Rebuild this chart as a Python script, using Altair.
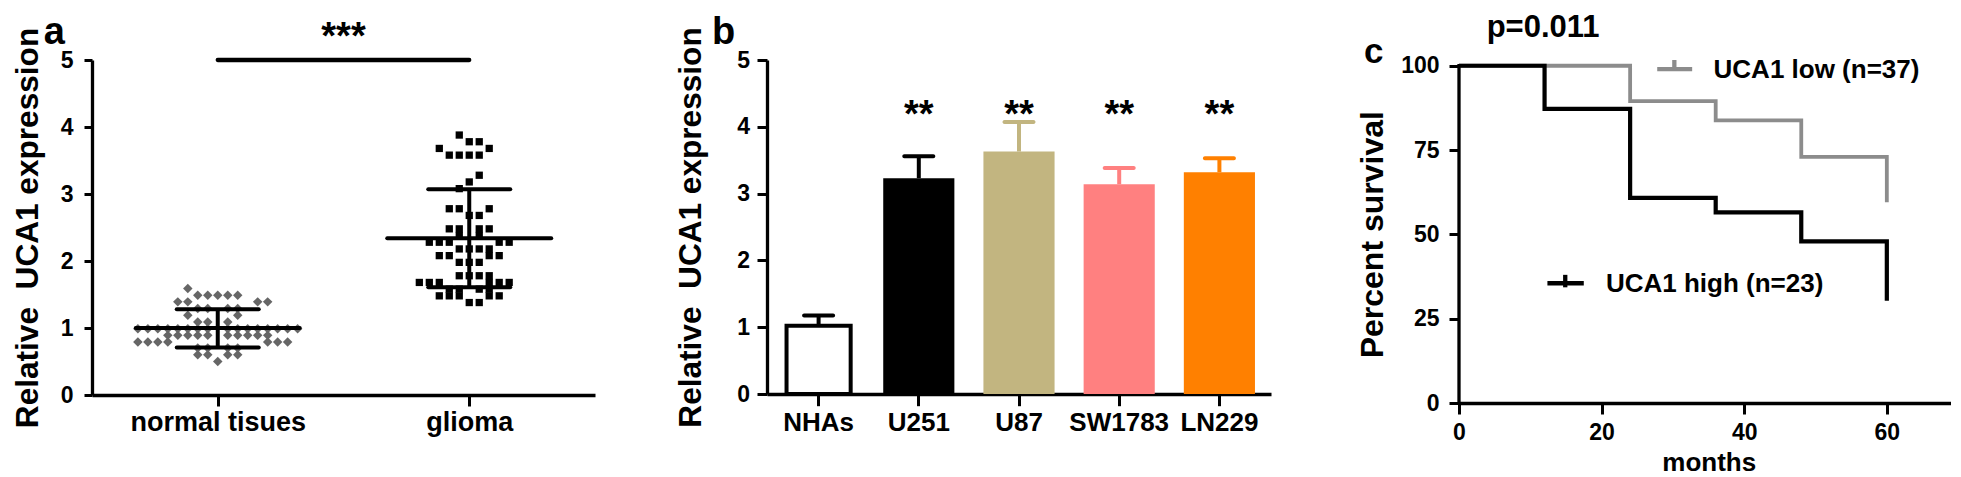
import altair as alt
import pandas as pd

FONT = "Liberation Sans"
BLACK = "#000000"

# ---------------- data: panel a (dot plot) ----------------
group_names = ["normal tisues", "glioma"]
normal_levels = [1.59, 1.49, 1.39, 1.29, 1.19, 1.09, 0.99, 0.89, 0.79, 0.70, 0.60, 0.50]
normal_columns = [
    [-3],
    [-2, -1, 0, 1, 2],
    [-4, -3, 4, 5],
    [-2, -1, 1, 2],
    [-3, 2],
    [-2, -1, 1],
    [-8, -7, -6, -5, -4, -3, -2, -1, 1, 2, 3, 4, 5, 6, 7, 8],
    [-5, -4, -3, -2, -1, 1, 2, 3, 4, 5],
    [-8, -7, -6, -5, 5, 6, 7],
    [-2, -1, 1, 2],
    [-2, -1, 1, 2],
    [0],
]
glioma_levels = [3.88, 3.78, 3.68, 3.58, 3.28, 3.18, 3.08, 2.78, 2.68, 2.48,
                 2.38, 2.28, 2.18, 2.08, 1.98, 1.78, 1.68, 1.58, 1.48, 1.38]
glioma_columns = [
    [-1], [0, 1], [-3, 2], [-2, -1, 0, 1], [1], [0], [-1], [-2, -1, 2], [0, 1],
    [-2, -1, 1, 2], [-1, 1], [-4, -3, -2, 3, 4], [-1, 0, 1, 2], [-3, -2, 2, 3],
    [-1, 0, 1], [-1, 0, 1, 2], [-5, -4, -3, 2, 3, 4], [-2, -1, 1, 2],
    [-3, -2, -1, 2, 3], [0, 1],
]
group_mean = [1.00, 2.34]
group_sd_low = [0.71, 1.61]
group_sd_high = [1.28, 3.07]
signif_a = "***"

# ---------------- data: panel b (bars) ----------------
cell_lines = ["NHAs", "U251", "U87", "SW1783", "LN229"]
cell_mean = [1.02, 3.23, 3.63, 3.14, 3.32]
cell_err = [0.155, 0.33, 0.44, 0.245, 0.21]
cell_fill = ["#FFFFFF", "#000000", "#C2B580", "#FF8080", "#FF8000"]
cell_edge = ["#000000", "#000000", "#C2B580", "#FF8080", "#FF8000"]
cell_stars = ["", "**", "**", "**", "**"]

# ---------------- data: panel c (Kaplan-Meier) ----------------
high_months = [0, 12, 24, 36, 48, 60]
high_survival = [100, 87.2, 60.8, 56.5, 47.9, 30.3]
low_months = [0, 24, 36, 48, 60]
low_survival = [100, 89.5, 83.8, 73.0, 59.5]
legend_low = "UCA1 low (n=37)"
legend_high = "UCA1 high (n=23)"
p_text = "p=0.011"

# ---------------- layout / style constants ----------------
COL_STEP = 0.0397
MEAN_HALF = 0.326
CAP_HALF = 0.163
GRAY_DOT = "#666666"
GRAY_LINE = "#8C8C8C"
GAP_AB = 171.7
GAP_BC = 187.6
LETTER_Y = -16.5


def axis(**kw):
    base = dict(grid=False, domainColor=BLACK, domainWidth=3.3, tickColor=BLACK, tickWidth=3,
                labelColor=BLACK, labelFont=FONT, labelFontWeight="bold", labelOverlap=False,
                labelFlush=False, titleFont=FONT, titleFontWeight="bold", titleColor=BLACK)
    base.update(kw)
    return alt.Axis(**base)


def label_layer(text, x, y, size):
    return alt.Chart(pd.DataFrame({"t": [text]})).mark_text(
        font=FONT, fontWeight="bold", fontSize=size, color=BLACK, align="center",
        baseline="alphabetic").encode(x=alt.value(x), y=alt.value(y), text="t:N")


def spacer(w):
    return alt.Chart(pd.DataFrame({"t": [""]})).mark_text(opacity=0).encode(
        text="t:N", x=alt.value(0), y=alt.value(0)).properties(width=w, height=10)


# invisible anchor fixing the top-left corner of the whole figure
anchor = alt.Chart(pd.DataFrame({"t": [0]})).mark_rule(opacity=0, strokeWidth=0.1).encode(
    x=alt.value(-83.7), x2=alt.value(-83.0), y=alt.value(-51.5))

# ================= panel a =================
rows = []
for gi, (levels, cols) in enumerate([(normal_levels, normal_columns), (glioma_levels, glioma_columns)]):
    for lvl, ks in zip(levels, cols):
        for k in ks:
            rows.append({"group": group_names[gi], "pos": gi + k * COL_STEP, "value": lvl})
dots = pd.DataFrame(rows)

hl = []
for gi in range(2):
    hl.append({"x0": gi - MEAN_HALF, "x1": gi + MEAN_HALF, "y": group_mean[gi]})
    hl.append({"x0": gi - CAP_HALF, "x1": gi + CAP_HALF, "y": group_sd_low[gi]})
    hl.append({"x0": gi - CAP_HALF, "x1": gi + CAP_HALF, "y": group_sd_high[gi]})
hl = pd.DataFrame(hl)
vl = pd.DataFrame({"x": [0, 1], "y0": group_sd_low, "y1": group_sd_high})
bracket = pd.DataFrame({"x0": [0], "x1": [1], "y": [5.0]})
star_a = pd.DataFrame({"x": [0.5], "y": [5.16], "t": [signif_a]})

xa_scale = alt.Scale(domain=[-0.5, 1.5], nice=False, zero=False)
ya_scale = alt.Scale(domain=[0, 5], nice=False)
xa_axis = axis(values=[0, 1], labelExpr="datum.value == 0 ? 'normal tisues' : 'glioma'",
               tickSize=11, labelPadding=3, labelFontSize=27, title=None)
ya_axis = axis(values=[0, 1, 2, 3, 4, 5], tickSize=8, labelPadding=11, labelFontSize=23,
               title="Relative\u00a0 UCA1 expression", titleFontSize=31.6, titleAngle=270,
               titleX=-55.0, titleY=167.5, titleAlign="center", titleBaseline="alphabetic")


def XA(f):
    return alt.X(f, type="quantitative", scale=xa_scale, axis=xa_axis)


def YA(f):
    return alt.Y(f, type="quantitative", scale=ya_scale, axis=ya_axis)


pts_normal = alt.Chart(dots[dots.group == group_names[0]]).mark_point(
    shape="diamond", filled=True, size=90, color=GRAY_DOT, opacity=1).encode(x=XA("pos"), y=YA("value"))
pts_glioma = alt.Chart(dots[dots.group == group_names[1]]).mark_square(
    size=53, color=BLACK, opacity=1).encode(x=XA("pos"), y=YA("value"))
stat_h = alt.Chart(hl).mark_rule(strokeWidth=4, strokeCap="round", color=BLACK).encode(
    x=XA("x0"), x2="x1:Q", y=YA("y"))
stat_v = alt.Chart(vl).mark_rule(strokeWidth=4, color=BLACK).encode(
    x=XA("x"), y=YA("y0"), y2="y1:Q")
br = alt.Chart(bracket).mark_rule(strokeWidth=4.3, strokeCap="round", color=BLACK).encode(
    x=XA("x0"), x2="x1:Q", y=YA("y"))
st_a = alt.Chart(star_a).mark_text(font=FONT, fontWeight="bold", fontSize=38, color=BLACK,
                                   baseline="alphabetic").encode(x=XA("x"), y=YA("y"), text="t:N")
panel_a = alt.layer(anchor, pts_normal, pts_glioma, stat_h, stat_v, br, st_a,
                    label_layer("a", -37.7, LETTER_Y, 38)).properties(width=503, height=335)

# ================= panel b =================
bdf = pd.DataFrame({"cell": cell_lines, "mean": cell_mean,
                    "upper": [m + e for m, e in zip(cell_mean, cell_err)],
                    "fill": cell_fill, "edge": cell_edge, "star": cell_stars})
bdf["star_y"] = 4.0

xb = alt.X("cell:N", scale=alt.Scale(domain=cell_lines, paddingInner=0, paddingOuter=0.015),
           axis=axis(tickSize=11.7, labelPadding=4, labelFontSize=26, labelAngle=0, title=None))
yb_scale = alt.Scale(domain=[0, 5], nice=False)
yb_axis = axis(values=[0, 1, 2, 3, 4, 5], tickSize=10, labelPadding=7.4, labelFontSize=23,
               title="Relative\u00a0 UCA1 expression", titleFontSize=31.6, titleAngle=270,
               titleX=-66.7, titleY=167, titleAlign="center", titleBaseline="alphabetic")


def YB(f):
    return alt.Y(f, type="quantitative", scale=yb_scale, axis=yb_axis)


bars_filled = alt.Chart(bdf[bdf.cell != "NHAs"]).mark_bar(width={"band": 0.71}, opacity=1).encode(
    x=xb, y=YB("mean"), color=alt.Color("fill:N", scale=None))
bar_open = alt.Chart(bdf[bdf.cell == "NHAs"]).mark_bar(
    width={"band": 0.64}, fill="#FFFFFF", stroke=BLACK, strokeWidth=4, opacity=1).encode(x=xb, y=YB("mean"))
err_v = alt.Chart(bdf).mark_rule(strokeWidth=4).encode(
    x=xb, y=YB("mean"), y2="upper:Q", color=alt.Color("edge:N", scale=None))
err_cap = alt.Chart(bdf).mark_tick(orient="horizontal", size=33, thickness=4, cornerRadius=2,
                                   opacity=1).encode(x=xb, y=YB("upper"), color=alt.Color("edge:N", scale=None))
stars_b = alt.Chart(bdf[bdf.star != ""]).mark_text(font=FONT, fontWeight="bold", fontSize=38,
                                                   color=BLACK, baseline="alphabetic").encode(
    x=xb, y=YB("star_y"), text="star:N")
panel_b = alt.layer(bars_filled, bar_open, err_v, err_cap, stars_b,
                    label_layer("b", -43.4, LETTER_Y, 38)).properties(width=504, height=334)

# ================= panel c =================
low_df = pd.DataFrame({"month": low_months, "surv": low_survival})
high_df = pd.DataFrame({"month": high_months, "surv": high_survival})

xc_scale = alt.Scale(domain=[0, 69], nice=False, zero=True)
yc_scale = alt.Scale(domain=[0, 101.7], nice=False)
xc_axis = axis(values=[0, 20, 40, 60], tickSize=11, labelPadding=7, labelFontSize=23,
               title="months", titleFontSize=26, titleX=249.7, titleY=67.5, titleAngle=0,
               titleAlign="center", titleBaseline="alphabetic")
yc_axis = axis(values=[0, 25, 50, 75, 100], domain=False, tickSize=10, labelPadding=10,
               labelFontSize=23, title="Percent survival", titleFontSize=32, titleAngle=270,
               titleX=-76.6, titleY=174.2, titleAlign="center", titleBaseline="alphabetic")


def XC(f):
    return alt.X(f, type="quantitative", scale=xc_scale, axis=xc_axis)


def YC(f):
    return alt.Y(f, type="quantitative", scale=yc_scale, axis=yc_axis)


yaxis_line = alt.Chart(pd.DataFrame({"x": [0], "y0": [0], "y1": [100]})).mark_rule(
    strokeWidth=3.3, color=BLACK, strokeCap="square").encode(x=XC("x"), y=YC("y0"), y2="y1:Q")
km_low = alt.Chart(low_df).mark_line(interpolate="step-after", color=GRAY_LINE, strokeWidth=3.8).encode(
    x=XC("month"), y=YC("surv"))
km_high = alt.Chart(high_df).mark_line(interpolate="step-after", color=BLACK, strokeWidth=4.2).encode(
    x=XC("month"), y=YC("surv"))

leg_lines = pd.DataFrame({
    "x0": [27.8, 30.2, 12.4, 14.9],
    "x1": [32.7, 30.2, 17.5, 14.9],
    "y0": [99.0, 99.0, 35.5, 34.3],
    "y1": [99.0, 101.7, 35.5, 38.0],
    "c": [GRAY_LINE, GRAY_LINE, BLACK, BLACK],
})
leg_rules = alt.Chart(leg_lines).mark_rule(strokeWidth=4.3).encode(
    x=XC("x0"), x2="x1:Q", y=YC("y0"), y2="y1:Q", color=alt.Color("c:N", scale=None))
leg_text = alt.Chart(pd.DataFrame({"x": [35.7, 20.6], "y": [96.5, 32.8], "t": [legend_low, legend_high]})).mark_text(
    font=FONT, fontWeight="bold", fontSize=26, color=BLACK, align="left", baseline="alphabetic").encode(
    x=XC("x"), y=YC("y"), text="t:N")
p_lab = alt.Chart(pd.DataFrame({"x": [11.8], "y": [108.4], "t": [p_text]})).mark_text(
    font=FONT, fontWeight="bold", fontSize=31, color=BLACK, align="center", baseline="alphabetic").encode(
    x=XC("x"), y=YC("y"), text="t:N")

panel_c = alt.layer(km_low, km_high, yaxis_line, leg_rules, leg_text, p_lab,
                    label_layer("c", -85.3, 2.5, 35)).properties(width=492, height=343)

chart = alt.hconcat(panel_a, spacer(GAP_AB), panel_b, spacer(GAP_BC), panel_c,
                    spacing=0, bounds="flush").properties(padding=0)
chart = chart.configure(font=FONT).configure_view(stroke=None)

chart.save("out.html", embed_options={"renderer": "svg", "actions": False})
